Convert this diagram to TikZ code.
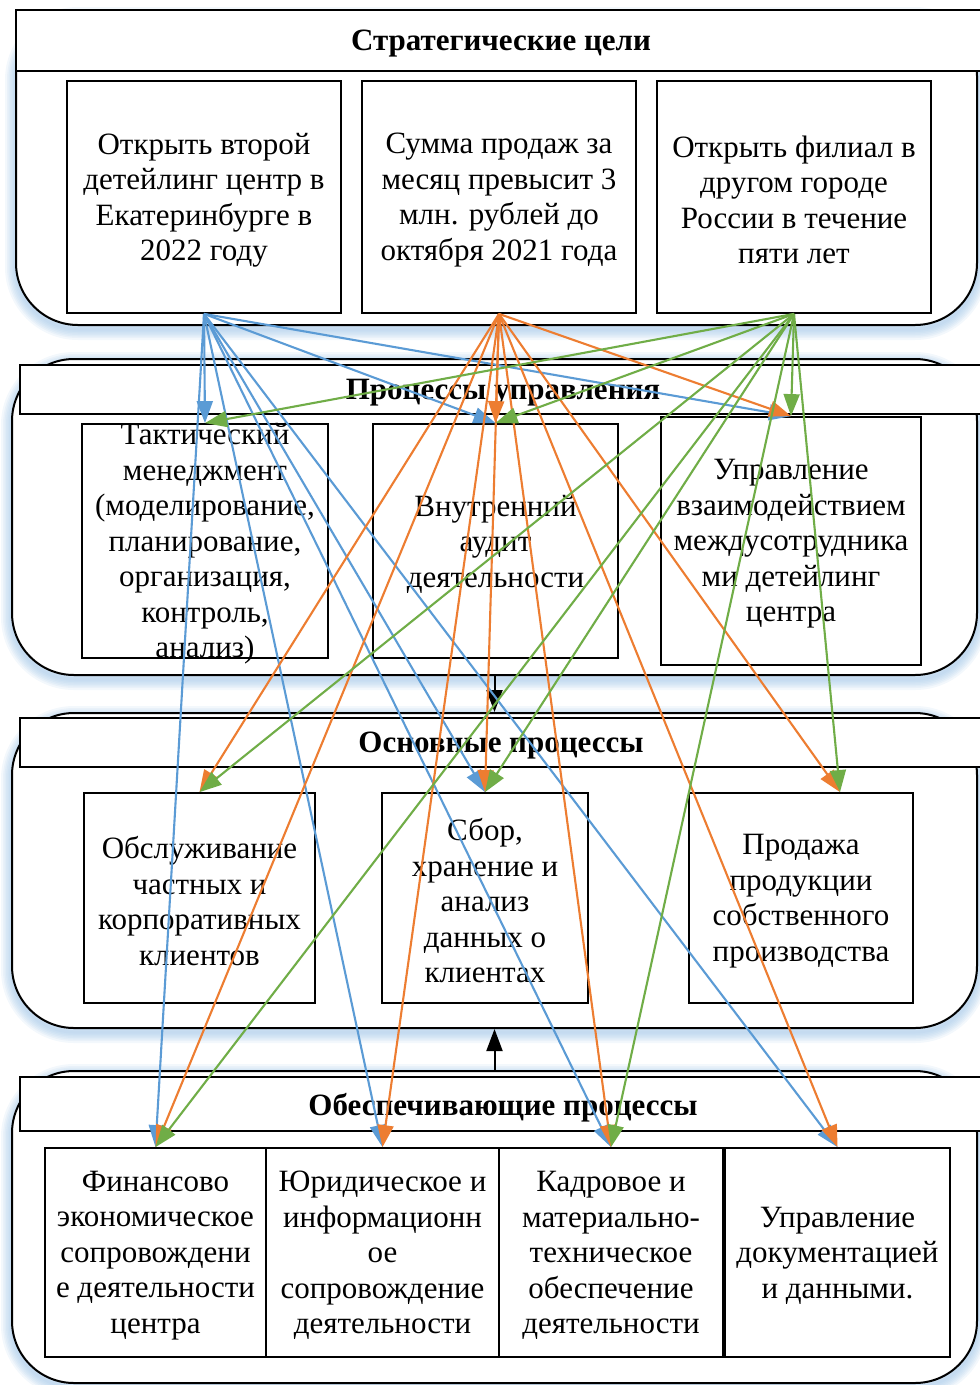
\documentclass[tikz,border=0pt]{standalone}
\usepackage{fontspec}
\setmainfont{Liberation Serif}
\usetikzlibrary{arrows.meta}

\definecolor{cblue}{HTML}{5B9BD5}
\definecolor{corange}{HTML}{ED7D31}
\definecolor{cgreen}{HTML}{70AD47}
\definecolor{glowblue}{HTML}{9DC3E6}

\tikzset{
  band/.style={draw=black, line width=2pt, fill=white, rounded corners=62pt, inner sep=0pt},
  header/.style={draw=black, line width=2.2pt, fill=white, inner sep=0pt},
  htext/.style={font=\fontsize{31}{35.5}\selectfont\bfseries, inner sep=0pt, yshift=-3pt},
  box/.style={draw=black, line width=1.8pt, fill=white, inner sep=0pt},
  btext/.style={font=\fontsize{31}{35.5}\selectfont, align=center, inner sep=0pt, yshift=-3pt},
  link/.style={line width=2.1pt, -{Triangle[length=22pt,width=16pt]}},
  flow/.style={line width=2pt, draw=black, -{Triangle[length=22pt,width=16pt]}},
}

% soft bluish halo under a rounded band: x1,y1,x2,y2
\newcommand{\glowbox}[4]{%
  \foreach \w in {3,6,9,12,15,18,22}{%
    \draw[glowblue, line width=\w pt, opacity=0.12, rounded corners=62pt]
      (#1,#2+4) rectangle (#3,#4+4);
  }%
}

\begin{document}
\begin{tikzpicture}[x=1pt,y=-1pt]
\useasboundingbox (0,0) rectangle (980,1385);
\clip (0,0) rectangle (980,1385);

% ---------- band 1: strategic goals ----------
\glowbox{16}{14}{977}{325}
\node[band, minimum width=961, minimum height=311] (band1) at (496.5,169.5) {};
\node[header, minimum width=974, minimum height=61] (h1) at (503,40.5) {};
\node[htext] (h1t) at (501,41) {Стратегические цели};
\node[box, minimum width=274, minimum height=232] (b1) at (204,197) {};
\node[box, minimum width=274, minimum height=232] (b2) at (499,197) {};
\node[box, minimum width=274, minimum height=232] (b3) at (794,197) {};
\node[btext] (b1t) at (b1.center) {Открыть второй\\детейлинг центр в\\Екатеринбурге в\\2022 году};
\node[btext] (b2t) at (b2.center) {Сумма продаж за\\месяц превысит 3\\млн. рублей до\\октября 2021 года};
\node[btext] (b3t) at (b3.center) {Открыть филиал в\\другом городе\\России в течение\\пяти лет};

% ---------- band 2: management processes ----------
\glowbox{12}{359}{977}{675}
\node[band, minimum width=965, minimum height=316] (band2) at (494.5,517) {};
\node[header, minimum width=970, minimum height=49] (h2) at (505,389.5) {};
\node[htext] (h2t) at (503,390) {Процессы управления};
\node[box, minimum width=246, minimum height=234] (tact) at (205,541) {};
\node[box, minimum width=245, minimum height=234] (audit) at (495.5,541) {};
\node[box, minimum width=260, minimum height=248] (mgmt) at (791,541) {};
\node[btext] (tactt) at (tact.center) {Тактический\\менеджмент\\(моделирование,\\планирование,\\организация,\\контроль,\\анализ)};
\node[btext] (auditt) at (audit.center) {Внутренний\\аудит\\деятельности};
\node[btext] (mgmtt) at (mgmt.center) {Управление\\взаимодействием\\междусотрудника\\ми детейлинг\\центра};

% ---------- band 3: core processes ----------
\glowbox{12}{713}{977}{1028}
\node[band, minimum width=965, minimum height=315] (band3) at (494.5,870.5) {};
\node[header, minimum width=970, minimum height=49] (h3) at (505,742.5) {};
\node[htext] (h3t) at (501,743) {Основные процессы};
\node[box, minimum width=231, minimum height=210] (serv) at (199.5,898) {};
\node[box, minimum width=206, minimum height=210] (data) at (485,898) {};
\node[box, minimum width=224, minimum height=210] (sale) at (801,898) {};
\node[btext] (servt) at (serv.center) {Обслуживание\\частных и\\корпоративных\\клиентов};
\node[btext] (datat) at (data.center) {Сбор,\\хранение и\\анализ\\данных о\\клиентах};
\node[btext] (salet) at (sale.center) {Продажа\\продукции\\собственного\\производства};

% ---------- band 4: support processes ----------
\glowbox{12}{1071}{977}{1383}
\node[band, minimum width=965, minimum height=312] (band4) at (494.5,1227) {};
\node[header, minimum width=970, minimum height=54] (h4) at (505,1104) {};
\node[htext] (h4t) at (503,1105) {Обеспечивающие процессы};
\node[box, minimum width=221, minimum height=209] (fin) at (155.5,1252.5) {};
\node[box, minimum width=233, minimum height=209] (law) at (382.5,1252.5) {};
\node[box, minimum width=224, minimum height=209] (hr) at (611,1252.5) {};
\node[box, minimum width=225, minimum height=209] (doc) at (837.5,1252.5) {};
\node[btext] (fint) at (fin.center) {Финансово\\экономическое\\сопровождени\\е деятельности\\центра};
\node[btext] (lawt) at (law.center) {Юридическое и\\информационн\\ое\\сопровождение\\деятельности};
\node[btext] (hrt) at (hr.center) {Кадровое и\\материально-\\техническое\\обеспечение\\деятельности};
\node[btext] (doct) at (doc.center) {Управление\\документацией\\и данными.};

% ---------- links between levels ----------
\draw[flow] (band2.south) -- (band3.north);
\draw[flow] (band4.north) -- (band3.south);

% goal 1
\foreach \t in {tact, audit, mgmt, data, fin, law, hr, doc}
  \draw[link, cblue] (b1.south) -- (\t.north);
% goal 2
\foreach \t in {audit, mgmt, serv, data, fin, law, hr, doc}
  \draw[link, corange] (b2.south) -- (\t.north);
\draw[link, corange] (b2.south) -- ([xshift=39pt]sale.north);
% goal 3
\foreach \t in {tact, audit, mgmt, serv, data, fin, hr}
  \draw[link, cgreen] (b3.south) -- (\t.north);
\draw[link, cgreen] (b3.south) -- ([xshift=39pt]sale.north);

\end{tikzpicture}
\end{document}
